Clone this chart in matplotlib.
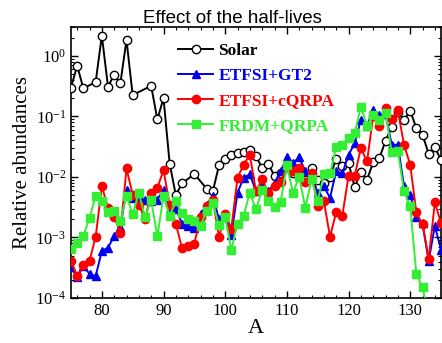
import matplotlib
matplotlib.use("Agg")
import matplotlib.pyplot as plt
from matplotlib.ticker import LogLocator, MultipleLocator, NullFormatter

# ---------------- data ----------------
A_solar = [75, 76, 77, 79, 80, 81, 82, 83, 84, 85, 88, 89, 90, 91, 92, 93, 95, 97, 98,
           99, 100, 101, 102, 103, 104, 105, 106, 107, 108, 109, 110, 111, 112, 113, 114,
           115, 116, 117, 118, 119, 120, 121, 122, 123, 124, 125, 126, 127, 128, 129, 130,
           131, 132, 133, 134, 135]
solar = [0.30, 0.69, 0.29, 0.37, 2.16, 0.31, 0.49, 0.35, 1.83, 0.225, 0.32, 0.089, 0.20,
         0.0166, 0.005, 0.0078, 0.0112, 0.0064, 0.0058,
         0.0155, 0.020, 0.0234, 0.025, 0.026, 0.0276, 0.022, 0.014, 0.0166, 0.0103, 0.0114,
         0.0145, 0.0117, 0.011, 0.009, 0.014, 0.0089, 0.0080, 0.010, 0.020, 0.015, 0.017,
         0.0068, 0.012, 0.0090, 0.0175, 0.0205, 0.039, 0.067, 0.12, 0.086, 0.125, 0.064,
         0.050, 0.024, 0.031, 0.019]

A_model = list(range(75, 136))
etfsi_gt2 = [3.2e-4, 2.2e-4, 3.4e-4, 2.5e-4, 2.3e-4, 6.0e-4, 6.8e-4, 1.05e-3, 1.5e-3, 6.0e-3,
             4.5e-3, 4.5e-3, 4.2e-3, 4.0e-3, 4.2e-3, 6.2e-3, 3.0e-3, 3.0e-3, 1.7e-3, 1.55e-3,
             1.45e-3, 2.4e-3, 3.5e-3, 4.8e-3, 2.0e-3, 2.2e-3, 1.08e-3, 5.5e-3, 9.7e-3, 0.011,
             5.8e-3, 7.5e-3, 5.8e-3, 8.0e-3, 0.0124, 0.021, 0.017, 0.021, 0.0124, 0.011,
             5.5e-3, 7.0e-3, 4.5e-3, 0.0124, 0.0114, 0.023, 0.036, 0.088, 0.07, 0.13,
             0.107, 0.11, 0.034, 0.034, 7.0e-3, 5.1e-3, 2.2e-3, 1.74e-3, 4.1e-4, 1.55e-3, 6.3e-4]
etfsi_cqrpa = [4.1e-4, 2.3e-4, 3.5e-4, 4.1e-4, 1.03e-3, 7.0e-3, 3.1e-3, 2.2e-3, 1.2e-3, 0.0138,
               5.1e-3, 3.5e-3, 2.0e-3, 5.5e-3, 6.6e-3, 0.0129, 3.5e-3, 1.7e-3, 6.6e-4, 7.2e-4,
               7.9e-4, 2.2e-3, 3.3e-3, 4.2e-3, 1.03e-3, 2.4e-3, 1.4e-3, 9.7e-3, 0.016, 0.023,
               5.8e-3, 9.1e-3, 5.5e-3, 7.2e-3, 8.2e-3, 0.015, 0.0124, 0.014, 8.3e-3, 0.0117,
               3.3e-3, 4.0e-3, 1.03e-3, 2.6e-3, 2.3e-3, 0.0103, 0.0105, 0.030, 0.018, 0.10,
               0.069, 0.14, 0.091, 0.126, 0.034, 0.016, 2.6e-3, 1.65e-3, 4.4e-4, 3.8e-3, 1.74e-3]
frdm_qrpa = [6.5e-4, 8.2e-4, 1.05e-3, 2.1e-3, 4.9e-3, 4.0e-3, 2.6e-3, 2.7e-3, 1.87e-3, 4.9e-3,
             2.4e-3, 5.4e-3, 2.2e-3, 4.1e-3, 1.05e-3, 4.8e-3, 2.3e-3, 4.0e-3, 2.5e-3, 2.0e-3,
             1.87e-3, 1.57e-3, 2.7e-3, 3.7e-3, 1.58e-3, 2.2e-3, 6.2e-4, 1.7e-3, 2.3e-3, 5.5e-3,
             2.9e-3, 6.2e-3, 4.0e-3, 3.2e-3, 3.9e-3, 0.0155, 5.5e-3, 0.010, 3.1e-3, 9.1e-3,
             4.0e-3, 0.011, 0.0114, 0.031, 0.034, 0.044, 0.053, 0.143, 0.07, 0.105,
             0.088, 0.116, 0.026, 0.027, 5.8e-3, 3.3e-3, 2.5e-4, 1.5e-4, 5.0e-5, None, None]

labels = ["Solar", "ETFSI+GT2", "ETFSI+cQRPA", "FRDM+QRPA"]
x_ticks = [80, 90, 100, 110, 120, 130]

# ---------------- plot ----------------
serif = ["Liberation Serif", "DejaVu Serif"]
plt.rcParams["font.family"] = serif
plt.rcParams["mathtext.fontset"] = "custom"
plt.rcParams["mathtext.rm"] = "Liberation Serif"
plt.rcParams["mathtext.it"] = "Liberation Serif:italic"

fig = plt.figure(figsize=(4.42, 3.43), dpi=100)
ax = fig.add_axes([71 / 442, 45 / 343, 370 / 442, 271 / 343])

def clean(xs, ys):
    pts = [(x, y) for x, y in zip(xs, ys) if y is not None]
    return [p[0] for p in pts], [p[1] for p in pts]

lw = 1.4
ax.plot(A_solar, solar, '-o', color='black', mfc='white', mec='black', ms=6,
        mew=1.0, lw=lw, label=labels[0], zorder=3)
xb, yb = clean(A_model, etfsi_gt2)
ax.plot(xb, yb, '-^', color='#0000ee', ms=6, lw=lw, label=labels[1], zorder=4)
xr, yr = clean(A_model, etfsi_cqrpa)
ax.plot(xr, yr, '-o', color='#ff0000', ms=6, lw=lw, label=labels[2], zorder=5)
xg, yg = clean(A_model, frdm_qrpa)
ax.plot(xg, yg, '-s', color='#33ee33', ms=5.5, lw=lw, label=labels[3], zorder=6)

ax.set_yscale('log')
ax.set_xlim(75, 135)
ax.set_ylim(1e-4, 3)
ax.set_xticks(x_ticks)
ax.xaxis.set_minor_locator(MultipleLocator(2))
ax.yaxis.set_major_locator(LogLocator(base=10, numticks=10))
ax.yaxis.set_minor_locator(LogLocator(base=10, subs=range(2, 10), numticks=20))
ax.yaxis.set_minor_formatter(NullFormatter())
ax.tick_params(which='both', direction='in', top=True, right=True, labelsize=12)
ax.tick_params(which='major', length=5, width=1.0)
ax.tick_params(which='minor', length=2.5, width=0.8)
for s in ax.spines.values():
    s.set_linewidth(1.2)

ax.set_xlabel("A", fontsize=16, labelpad=0)
ax.set_ylabel("Relative abundances", fontsize=15, labelpad=2)
ax.set_title("Effect of the half-lives", fontsize=13.5, family=["Liberation Sans", "DejaVu Sans"],
             pad=2, x=0.435)

leg = ax.legend(loc='upper left', bbox_to_anchor=(0.29, 0.94), frameon=False,
                borderpad=0, borderaxespad=0, handlelength=2.0, handletextpad=0.3,
                labelspacing=0.5, labelcolor='linecolor',
                prop={'family': serif, 'weight': 'bold', 'size': 12.5})

fig.savefig("out.png", dpi=100)
